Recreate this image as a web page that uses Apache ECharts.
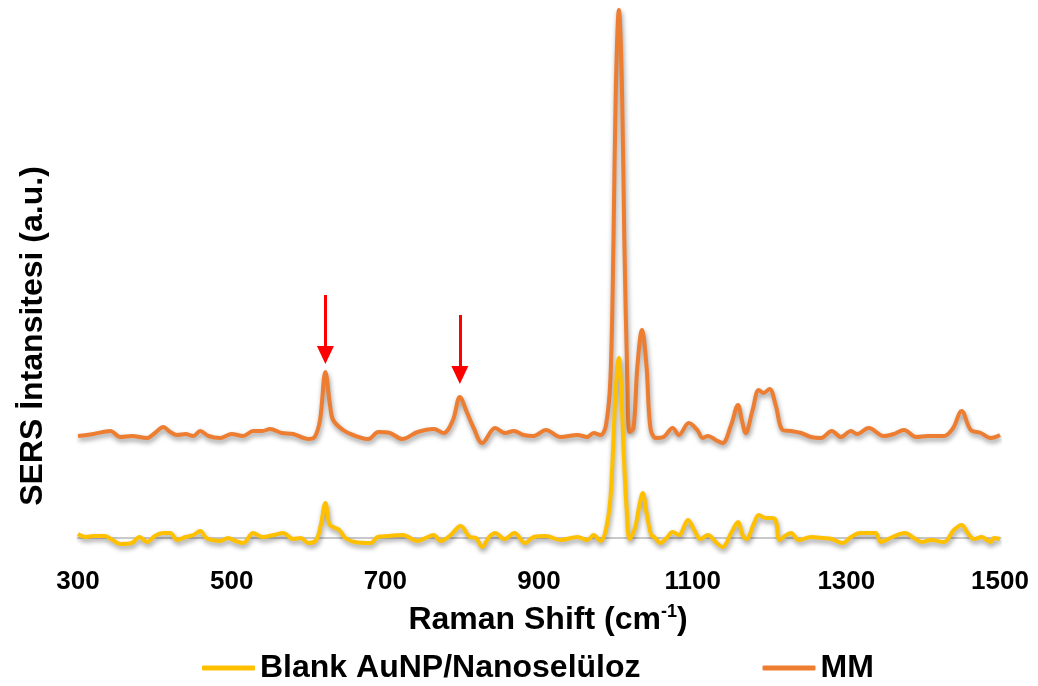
<!DOCTYPE html>
<html>
<head>
<meta charset="utf-8">
<script src="https://cdn.jsdelivr.net/npm/echarts@6/dist/echarts.min.js"></script>
<style>
  html, body { margin: 0; padding: 0; background: #fff; }
  #chart { width: 1038px; height: 686px; }
</style>
</head>
<body>
<div id="chart"></div>
<script>
// Raman shift (cm-1) and SERS intensity (a.u.)
const mmShift = [300, 320, 342, 355, 370, 390, 400, 411, 420, 429, 440, 450, 459, 470, 485, 500, 515, 528, 540, 550, 565, 580, 600, 608, 615, 622, 628, 632, 645, 658, 678, 691, 706, 722, 742, 763, 776, 788, 797, 806, 815, 826, 843, 856, 867, 880, 893, 909, 928, 950, 963, 971, 980, 987, 993, 997, 1000, 1004, 1008, 1011, 1015, 1018, 1023, 1028, 1034, 1040, 1045, 1052, 1062, 1074, 1082, 1095, 1106, 1113, 1120, 1130, 1139, 1150, 1159, 1164, 1169, 1178, 1186, 1192, 1200, 1208, 1217, 1228, 1241, 1254, 1267, 1281, 1293, 1306, 1314, 1329, 1349, 1362, 1375, 1391, 1406, 1427, 1439, 1450, 1462, 1475, 1488, 1500]
const mmIntensity = [102, 104, 107, 101, 102, 100, 105, 111, 106, 103, 104, 102, 107, 102, 100, 104, 102, 107, 107, 109, 105, 104, 99, 101, 118, 166, 133, 118, 108, 103, 99, 106, 105, 99, 106, 109, 105, 118, 141, 126, 110, 95, 110, 105, 107, 103, 102, 108, 101, 103, 101, 105, 103, 112, 160, 300, 450, 528, 450, 300, 158, 106, 110, 171, 208, 171, 110, 100, 101, 110, 103, 115, 108, 100, 102, 98, 95, 113, 133, 118, 105, 128, 148, 145, 149, 133, 108, 107, 105, 101, 100, 107, 101, 107, 104, 110, 102, 104, 108, 101, 102, 102, 110, 127, 108, 105, 100, 103]

const blankShift = [300, 310, 320, 335, 345, 355, 370, 380, 390, 400, 411, 420, 429, 440, 450, 459, 467, 475, 485, 495, 505, 515, 528, 540, 555, 567, 580, 590, 600, 610, 616, 622, 627, 632, 640, 648, 660, 681, 690, 705, 722, 742, 755, 763, 772, 785, 798, 810, 818, 826, 835, 843, 855, 868, 882, 893, 909, 928, 950, 963, 971, 980, 987, 993, 997, 1000, 1004, 1007, 1010, 1014, 1018, 1025, 1030, 1035, 1040, 1046, 1050, 1058, 1066, 1074, 1082, 1094, 1102, 1110, 1120, 1130, 1139, 1150, 1159, 1165, 1170, 1180, 1186, 1195, 1202, 1208, 1213, 1220, 1228, 1238, 1254, 1270, 1281, 1295, 1306, 1318, 1326, 1338, 1345, 1360, 1376, 1388, 1398, 1410, 1427, 1440, 1450, 1458, 1466, 1476, 1488, 1492, 1500]
const blankIntensity = [4, 1, 2, 2, -2, -6, -5, 1, -4, 2, 5, 5, -2, 1, 3, 7, 0, -2, -3, 0, -3, -5, 5, 1, 3, 5, -1, 0, -5, -2, 13, 35, 14, 11, 8, 0, -4, -5, 1, 2, 3, -3, 1, 3, -3, 3, 12, 1, 0, -9, 1, 5, -1, 5, -5, 1, 2, -2, 1, -2, 3, -3, 8, 40, 100, 150, 180, 150, 90, 30, -1, 10, 30, 45, 25, 3, 1, -5, 0, 6, 3, 18, 8, -1, 3, -4, -9, 5, 16, 3, -1, 15, 23, 20, 20, 18, -2, 2, 5, -2, 1, 0, -1, -5, 1, 5, 5, 5, -4, 1, 5, 0, -4, -2, -4, 8, 13, 5, -1, 1, -4, 0, -1]

// red arrows marking the two MM bands
const arrowShift = [622, 797]
const arrowTop = [243, 223]
const arrowEnd = [183, 163]

const xMin = 300
const xMax = 1500
const xStep = 200

const font = "'Liberation Sans', Arial, sans-serif"

const toPairs = (xs, ys) => xs.map((x, i) => [x, ys[i]])

const chart = echarts.init(document.getElementById('chart'), null, { renderer: 'canvas' })

const shadow = {
  shadowColor: 'rgba(0, 0, 0, 0.4)',
  shadowBlur: 5,
  shadowOffsetX: 1,
  shadowOffsetY: 3,
}

chart.setOption({
  animation: false,
  backgroundColor: '#fff',
  grid: {
    left: 78,
    right: 38,
    top: 8,
    bottom: 133,
  },
  xAxis: {
    type: 'value',
    min: xMin,
    max: xMax,
    interval: xStep,
    name: 'Raman Shift (cm{sup|-1})',
    nameLocation: 'middle',
    nameGap: 50,
    nameTextStyle: {
      fontFamily: font,
      fontWeight: 'bold',
      fontSize: 32,
      color: '#000',
      padding: [0, 0, 0, 18],
      rich: {
        sup: {
          fontFamily: font,
          fontWeight: 'bold',
          fontSize: 18,
          color: '#000',
          verticalAlign: 'top',
          padding: [0, 0, 16, 0],
        },
      },
    },
    axisLine: {
      onZero: true,
      lineStyle: { color: '#c9c9c9', width: 2 },
    },
    axisTick: { show: false },
    splitLine: { show: false },
    axisLabel: {
      margin: 16,
      fontFamily: font,
      fontWeight: 'bold',
      fontSize: 26,
      color: '#000',
      formatter: (v) => String(v),
    },
  },
  yAxis: {
    type: 'value',
    min: -15,
    max: 530,
    show: true,
    axisLine: { show: false },
    axisTick: { show: false },
    axisLabel: { show: false },
    splitLine: { show: false },
  },
  graphic: [
    {
      type: 'text',
      x: 33,
      y: 336,
      rotation: Math.PI / 2,
      style: {
        text: 'SERS İntansitesi (a.u.)',
        fontFamily: font,
        fontWeight: 'bold',
        fontSize: 32,
        fill: '#000',
        align: 'center',
        verticalAlign: 'middle',
      },
    },
  ],
  legend: {
    top: 647,
    left: 197,
    itemGap: 122,
    itemWidth: 53,
    itemHeight: 5,
    icon: 'roundRect',
    data: ['Blank AuNP/Nanoselüloz', 'MM'],
    textStyle: {
      fontFamily: font,
      fontWeight: 'bold',
      fontSize: 32,
      color: '#000',
    },
  },
  series: [
    {
      name: 'MM',
      type: 'line',
      data: toPairs(mmShift, mmIntensity),
      smooth: 0.35,
      symbol: 'none',
      color: '#ED7D31',
      lineStyle: { color: '#ED7D31', width: 4, ...shadow },
      markLine: {
        silent: true,
        symbol: ['none', 'triangle'],
        symbolSize: [17, 18],
        label: { show: false },
        lineStyle: { color: '#FF0000', width: 3, type: 'solid', shadowBlur: 0 },
        data: arrowShift.map((x, i) => [
          { coord: [x, arrowTop[i]] },
          { coord: [x, arrowEnd[i]] },
        ]),
      },
    },
    {
      name: 'Blank AuNP/Nanoselüloz',
      type: 'line',
      data: toPairs(blankShift, blankIntensity),
      smooth: 0.35,
      symbol: 'none',
      color: '#FFC000',
      lineStyle: { color: '#FFC000', width: 4, ...shadow },
    },
  ],
})
</script>
</body>
</html>
